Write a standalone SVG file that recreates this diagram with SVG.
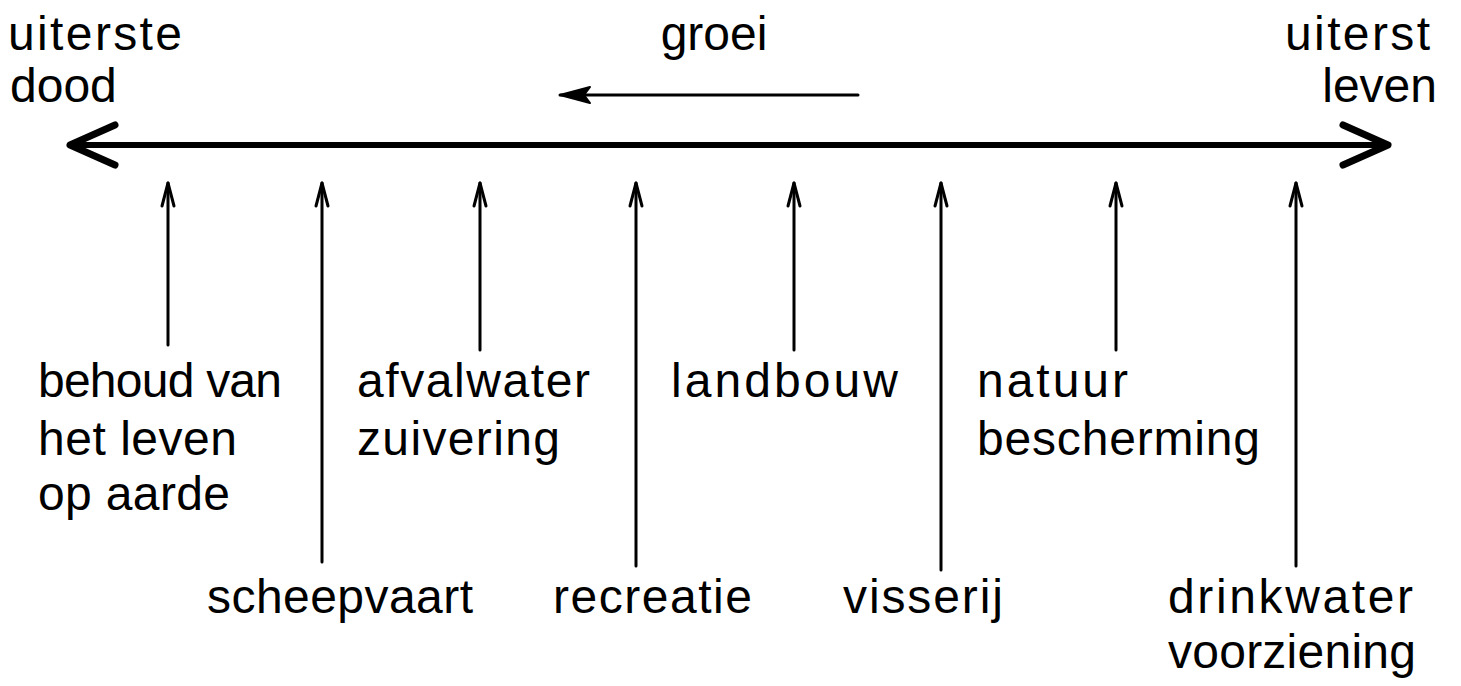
<svg xmlns="http://www.w3.org/2000/svg" width="1461" height="686" viewBox="0 0 1461 686">
<style>
text{font-family:"Liberation Sans",Arial,sans-serif;font-size:48px;fill:#000}
.ln{stroke:#000;fill:none;stroke-linecap:round}
</style>
<defs>
<marker id="big" markerUnits="userSpaceOnUse" viewBox="-50 -24 56 48" markerWidth="56" markerHeight="48" refX="0" refY="0" orient="auto-start-reverse" overflow="visible">
<path d="M-45 -20 L0 0 L-45 20" fill="none" stroke="#000" stroke-width="7" stroke-linecap="round" stroke-linejoin="round"/>
</marker>
<marker id="small" markerUnits="userSpaceOnUse" viewBox="-34 -10 38 20" markerWidth="38" markerHeight="20" refX="0" refY="0" orient="auto" overflow="visible">
<path d="M-30 -8 L0 0 L-30 8 L-24 0 Z" fill="#000" stroke="#000" stroke-width="2" stroke-linejoin="round"/>
</marker>
<marker id="up" markerUnits="userSpaceOnUse" viewBox="-26 -8 30 16" markerWidth="30" markerHeight="16" refX="0" refY="0" orient="auto" overflow="visible">
<path d="M-23 -6 L0 0 L-23 6" fill="none" stroke="#000" stroke-width="3" stroke-linecap="round" stroke-linejoin="round"/>
</marker>
</defs>
<g id="connectors">
<line class="ln" x1="70" y1="145" x2="1388" y2="145" stroke-width="6" marker-start="url(#big)" marker-end="url(#big)"/>
<line class="ln" x1="858" y1="95" x2="560" y2="95" stroke-width="3" marker-end="url(#small)"/>
<line class="ln" x1="168" y1="345" x2="168" y2="183" stroke-width="3" marker-end="url(#up)"/>
<line class="ln" x1="322" y1="562" x2="322" y2="183" stroke-width="3" marker-end="url(#up)"/>
<line class="ln" x1="480" y1="350" x2="480" y2="183" stroke-width="3" marker-end="url(#up)"/>
<line class="ln" x1="636" y1="566" x2="636" y2="183" stroke-width="3" marker-end="url(#up)"/>
<line class="ln" x1="794" y1="350" x2="794" y2="183" stroke-width="3" marker-end="url(#up)"/>
<line class="ln" x1="941" y1="570" x2="941" y2="183" stroke-width="3" marker-end="url(#up)"/>
<line class="ln" x1="1116" y1="350" x2="1116" y2="183" stroke-width="3" marker-end="url(#up)"/>
<line class="ln" x1="1296" y1="566" x2="1296" y2="183" stroke-width="3" marker-end="url(#up)"/>
</g>
<g id="dood"><text x="8" y="50" textLength="174">uiterste</text><text x="10" y="102">dood</text></g>
<g id="groei"><text x="714" y="50" text-anchor="middle">groei</text></g>
<g id="leven"><text x="1285" y="50" textLength="145">uiterst</text><text x="1437" y="102" text-anchor="end">leven</text></g>
<g id="behoud"><text x="38" y="397" textLength="244">behoud van</text><text x="38" y="455" textLength="199">het leven</text><text x="38" y="510" textLength="192">op aarde</text></g>
<g id="scheepvaart"><text x="207" y="613" textLength="266">scheepvaart</text></g>
<g id="afvalwater"><text x="357" y="397" textLength="233">afvalwater</text><text x="357" y="455" textLength="203">zuivering</text></g>
<g id="recreatie"><text x="553" y="613" textLength="199">recreatie</text></g>
<g id="landbouw"><text x="671" y="397" textLength="227">landbouw</text></g>
<g id="visserij"><text x="843" y="613" textLength="160">visserij</text></g>
<g id="natuur"><text x="977" y="397" textLength="151">natuur</text><text x="977" y="455" textLength="283">bescherming</text></g>
<g id="drinkwater"><text x="1168" y="613" textLength="245">drinkwater</text><text x="1168" y="668" textLength="248">voorziening</text></g>
</svg>
